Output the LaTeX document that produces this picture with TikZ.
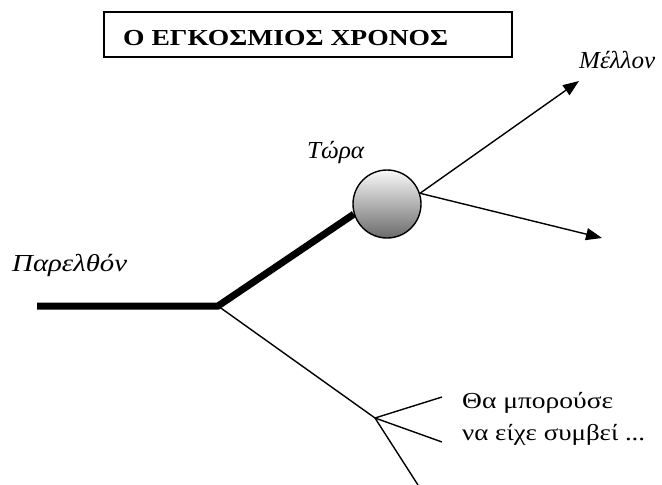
\documentclass[tikz,border=0pt]{standalone}
\usepackage{graphicx}
\usepackage{fontspec}
\setmainfont{Liberation Serif}
\usetikzlibrary{arrows.meta}
% fit text to a given width and a given cap height
\newcommand{\fitwh}[3]{\begingroup\pgfmathsetmacro\vsc{#2/\the\fontcharht\font`H}\resizebox{#1}{\vsc\height}{#3}\endgroup}
\begin{document}
\begin{tikzpicture}[x=1pt,y=-1pt,
  thickline/.style={line width=7pt, line join=miter},
  thinline/.style={line width=1.4pt},
  arrowline/.style={line width=1.4pt, -{Triangle[length=16pt,width=12pt]}},
  lbl/.style={font=\fontsize{24}{28}\selectfont\itshape, inner sep=0pt, anchor=base west},
  plain/.style={font=\fontsize{23}{32}\selectfont, inner sep=0pt, anchor=base west},
  titlebox/.style={draw, line width=1.4pt, minimum width=408pt, minimum height=45pt, inner sep=0pt}]
\useasboundingbox (0,0) rectangle (662,485);
% title
\node[titlebox] (box) at (308,34.5) {};
\node[font=\fontsize{22.5}{26}\selectfont\bfseries, inner sep=0pt, anchor=base west] (title) at (123,45) {\fitwh{325pt}{15}{Ο ΕΓΚΟΣΜΙΟΣ ΧΡΟΝΟΣ}};
% labels
\node[lbl] (future) at (579,68.5) {\fitwh{76pt}{16}{Μέλλον}};
\node[lbl] (nowlbl) at (307,158.3) {\fitwh{57pt}{16}{Τώρα}};
\node[lbl] (pastlbl) at (12,271.7) {\fitwh{115pt}{16}{Παρελθόν}};
% now circle
\node[circle, draw, line width=1.4pt, minimum size=68pt, inner sep=0pt,
      top color=gray!5, bottom color=black!58] (now) at (387,204) {};
% coordinates
\coordinate (past) at (37,306);
\coordinate (j1) at (218,306);
\coordinate (j2) at (375,418);
\coordinate (fut1) at (579,81);
\coordinate (fut2) at (602,238);
\coordinate (b1) at (442,397);
\coordinate (b2) at (442,442);
\coordinate (b3) at (418,485);
% thick past line
\draw[thickline] (past) -- (j1) -- (now.197);
% future arrows
\draw[arrowline] (now.18) -- (fut1);
\draw[arrowline] (now.18) -- (fut2);
% alternative branch
\draw[thinline] (j1) -- (j2);
\draw[thinline] (j2) -- (b1);
\draw[thinline] (j2) -- (b2);
\draw[thinline] (j2) -- (b3);
\node[plain] (could) at (462,408.5) {\begin{tabular}[t]{@{}l@{}}\fitwh{151pt}{15}{Θα μπορούσε}\\\fitwh{183pt}{15}{να είχε συμβεί ...}\end{tabular}};
\end{tikzpicture}
\end{document}
